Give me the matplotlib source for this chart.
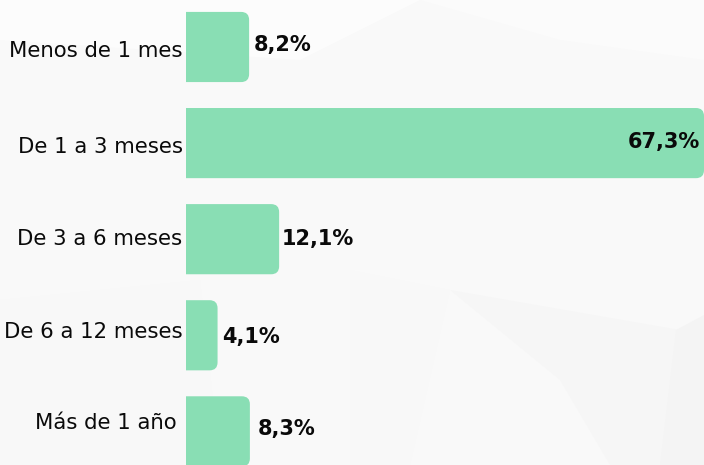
import matplotlib
matplotlib.use("Agg")
import matplotlib.pyplot as plt
from matplotlib.patches import FancyBboxPatch, Polygon

categories = ["Menos de 1 mes", "De 1 a 3 meses", "De 3 a 6 meses", "De 6 a 12 meses", "Más de 1 año"]
values = [8.2, 67.3, 12.1, 4.1, 8.3]
value_labels = ["8,2%", "67,3%", "12,1%", "4,1%", "8,3%"]

BAR_COLOR = "#89DEB4"
TEXT_COLOR = "#0a0a0a"
W, H = 704, 465
fig = plt.figure(figsize=(W / 100, H / 100), dpi=100)
fig.patch.set_facecolor("#f9f9f9")

# faint background polygons (decoration)
bg = fig.add_axes([0, 0, 1, 1], zorder=-10)
bg.set_xlim(0, W); bg.set_ylim(H, 0); bg.axis("off")
polys = [
    ([(0, 0), (420, 0), (300, 60), (0, 40)], "#fcfcfc"),
    ([(420, 0), (704, 0), (704, 60), (560, 40)], "#fbfbfb"),
    ([(350, 270), (450, 290), (410, 465), (350, 465)], "#f8f8f8"),
    ([(450, 290), (680, 330), (704, 320), (704, 465), (610, 465), (560, 380)], "#f6f6f6"),
    ([(676, 330), (704, 315), (704, 465), (660, 465)], "#f4f4f4"),
    ([(0, 300), (200, 280), (220, 465), (0, 465)], "#f8f8f8"),
]
for pts, c in polys:
    bg.add_patch(Polygon(pts, closed=True, facecolor=c, edgecolor="none"))

left_px = 186
ax = fig.add_axes([left_px / W, 0, 1 - left_px / W, 1])
ax.patch.set_alpha(0)
ymin_top = -0.489
ymax_bot = 4.35
ax.set_ylim(ymax_bot, ymin_top)
ax.set_xlim(0, 67.3)

ypos = list(range(len(categories)))
bar_h = 0.73
bars = ax.barh(ypos, values, height=bar_h, color=BAR_COLOR)

# replace bars by rounded versions (square left edge by clipping)
px_per_x = (W - left_px) / 67.3
px_per_y = H / (ymax_bot - ymin_top)
r_px = 8
r_x = r_px / px_per_x
aspect = (r_px / px_per_y) / r_x
for b in bars:
    x0, y0 = b.get_x(), b.get_y()
    w, h = b.get_width(), b.get_height()
    b.remove()
    p = FancyBboxPatch((x0 - r_x, y0), w + r_x, h,
                       boxstyle=f"round,pad=0,rounding_size={r_x}",
                       mutation_aspect=aspect, facecolor=BAR_COLOR,
                       edgecolor="none", clip_on=True)
    ax.add_patch(p)

ax.set_yticks([])
ax.set_xticks([])
for s in ax.spines.values():
    s.set_visible(False)

# category labels (offsets in points; 1px = 0.72pt)
cat_offsets = [(-2.5, -3), (-2.5, -2.5), (-2.5, 0), (-2.5, 2), (-7, 6)]
for i, (lab, off) in enumerate(zip(categories, cat_offsets)):
    ax.annotate(lab, (0, i), xytext=off, textcoords="offset points",
                ha="right", va="center", fontsize=15.3, color=TEXT_COLOR,
                annotation_clip=False)

val_offsets = [(3, 1.5), (-3, 1), (1.5, 0), (3.5, -1), (6, 2)]
for i, (v, lab, off) in enumerate(zip(values, value_labels, val_offsets)):
    ha = "right" if v > 50 else "left"
    ax.annotate(lab, (v, i), xytext=off, textcoords="offset points",
                ha=ha, va="center", fontsize=15, fontweight="bold", color=TEXT_COLOR,
                annotation_clip=False)

fig.savefig("out.png", dpi=100, facecolor=fig.get_facecolor())
